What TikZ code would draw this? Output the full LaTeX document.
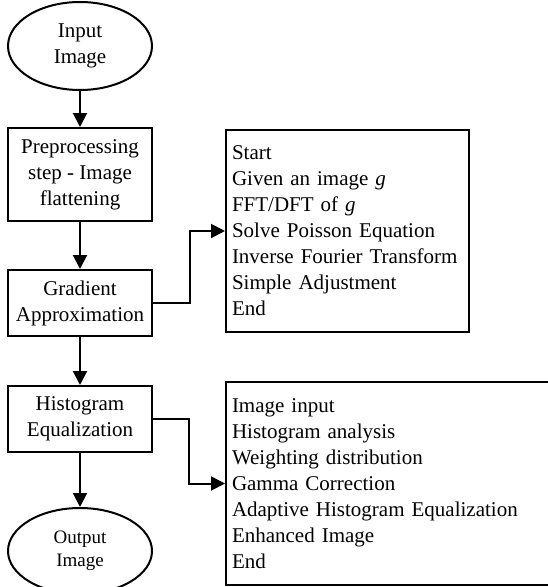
\documentclass[tikz,border=0pt]{standalone}
\usepackage{fontspec}
\setmainfont{Liberation Serif}
\usetikzlibrary{shapes.geometric, arrows.meta, positioning}

\tikzset{
  endpoint/.style={draw, ellipse, line width=2pt, minimum width=144pt, inner sep=0pt, align=center},
  stepbox/.style={draw, rectangle, line width=2pt, minimum width=144pt, inner sep=0pt, align=center},
  listbox/.style={draw, rectangle, line width=2pt, align=left, inner xsep=6pt, inner ysep=0pt},
  flow/.style={line width=2pt, -{Triangle[length=14pt, width=14pt]}}
}

\begin{document}
\begin{tikzpicture}[x=1pt, y=-1pt, font=\fontsize{21}{26}\selectfont]
    \useasboundingbox (0,0) rectangle (547,587);

    % Main column
    \node[endpoint, minimum height=88pt] (in) at (80,46) {Input\\Image};
    \node[stepbox, minimum height=93pt, below=36pt of in] (pre) {Preprocessing\\step - Image\\flattening};
    \node[stepbox, minimum height=66pt, below=47pt of pre] (grad) {Gradient\\Approximation};
    \node[stepbox, minimum height=66pt, below=48pt of grad] (hist) {Histogram\\Equalization};
    \node[endpoint, minimum height=86pt, below=54pt of hist,
          font=\fontsize{19}{23}\selectfont] (out) {Output\\Image};

    % Detail boxes
    \node[listbox, text width=231pt, minimum height=202pt] (fourier) at (347.5,231) {
        Start\\
        Given an image \textit{g}\\
        FFT/DFT of \textit{g}\\
        Solve Poisson Equation\\
        Inverse Fourier Transform\\
        Simple Adjustment\\
        End
    };
    \node[listbox, text width=314pt, minimum height=203pt] (ahe) at (389,483.5) {
        Image input\\
        Histogram analysis\\
        Weighting distribution\\
        Gamma Correction\\
        Adaptive Histogram Equalization\\
        Enhanced Image\\
        End
    };

    % Arrows
    \draw[flow] (in) -- (pre);
    \draw[flow] (pre) -- (grad);
    \draw[flow] (grad) -- (hist);
    \draw[flow] (hist) -- (out);
    \draw[flow] (grad.east) -- ++(37,0) |- (fourier.west);
    \draw[flow] (hist.east) -- ++(36,0) |- (ahe.west);
\end{tikzpicture}
\end{document}
